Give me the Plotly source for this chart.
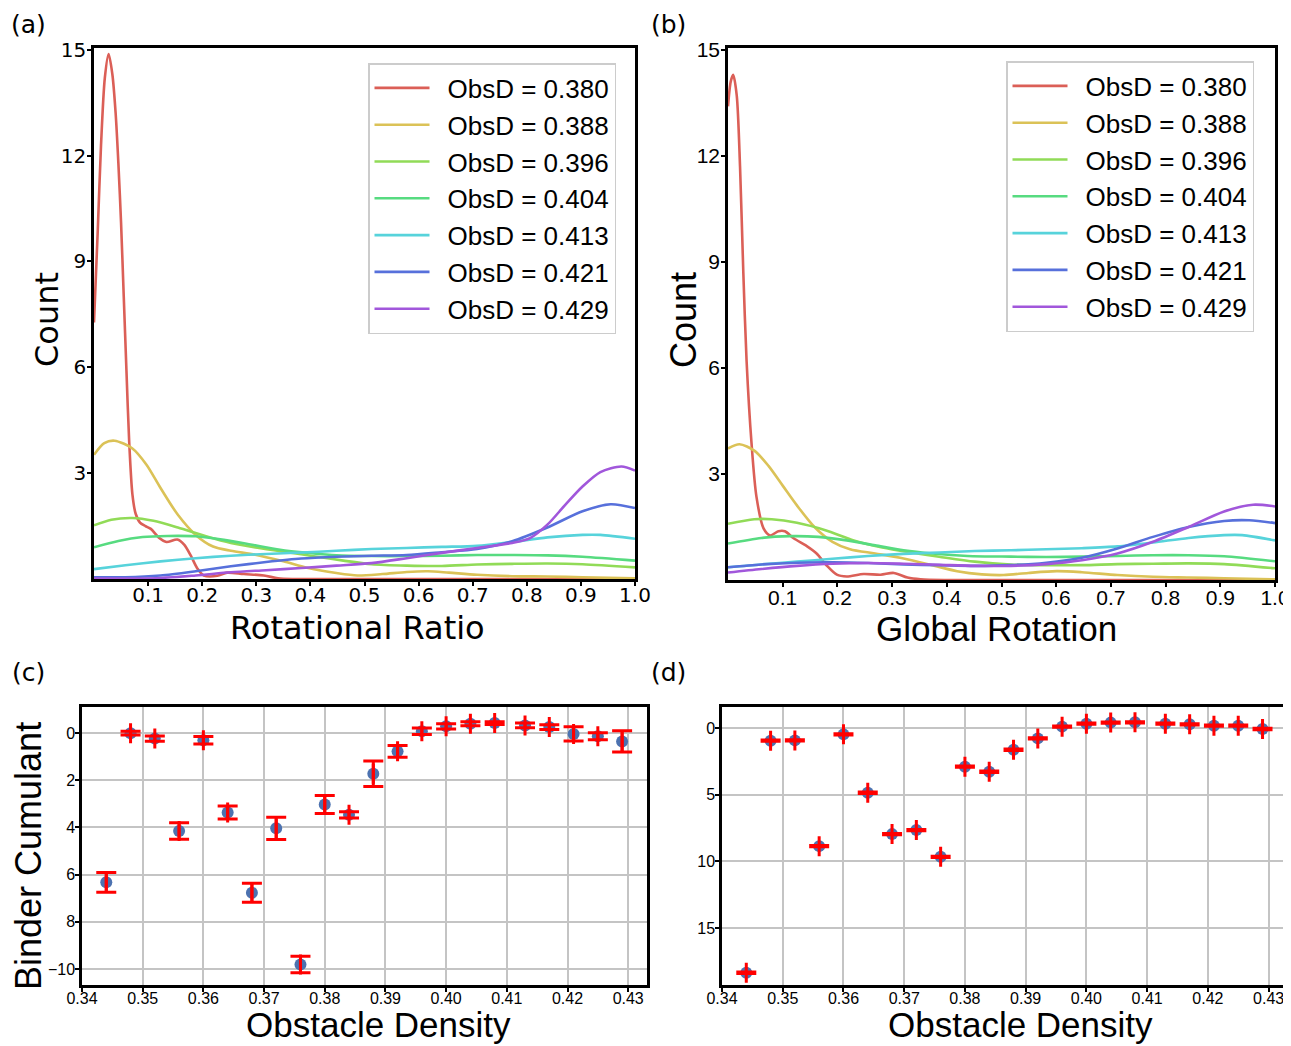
import plotly.graph_objects as go

W, H = 1291, 1046
OFF = 8  # page body margin of the html page


def fx(p):
    return (p - OFF) / W


def fy(p):
    return 1 - (p - OFF) / H


# ---------------- data ----------------
obsd_labels = ["ObsD = 0.380", "ObsD = 0.388", "ObsD = 0.396", "ObsD = 0.404",
               "ObsD = 0.413", "ObsD = 0.421", "ObsD = 0.429"]
colors = ["#db5f57", "#dbc257", "#91db57", "#57db80", "#57d3db", "#5770db", "#a157db"]

# (a) Rotational Ratio distributions
rr_red_x = [0, 0.007, 0.013, 0.02, 0.027, 0.034, 0.040, 0.045, 0.050, 0.055, 0.060, 0.065, 0.071,
            0.077, 0.085, 0.095, 0.105, 0.120, 0.134, 0.154, 0.167, 0.179, 0.191, 0.203, 0.228,
            0.246, 0.277, 0.314, 0.34, 0.37, 0.5, 0.7, 1.0]
rr_red_y = [7.27, 9.9, 12.3, 14.2, 14.88, 14.3, 13.2, 11.8, 10.1, 8.0, 5.9, 3.9, 2.4,
            1.85, 1.6, 1.5, 1.42, 1.17, 1.05, 1.12, 0.97, 0.66, 0.3, 0.1, 0.09,
            0.18, 0.14, 0.1, 0.02, 0.0, 0.0, 0.0, 0.0]
rr_yel_x = [0, 0.019, 0.038, 0.071, 0.097, 0.123, 0.155, 0.188, 0.22, 0.253, 0.298, 0.35, 0.396,
            0.448, 0.487, 0.533, 0.578, 0.617, 0.656, 0.708, 0.773, 0.838, 0.903, 1.0]
rr_yel_y = [3.52, 3.85, 3.92, 3.7, 3.24, 2.58, 1.82, 1.25, 0.92, 0.80, 0.69, 0.5, 0.31,
            0.17, 0.10, 0.14, 0.2, 0.22, 0.18, 0.12, 0.08, 0.07, 0.05, 0.02]
rr_lgr_x = [0, 0.032, 0.071, 0.11, 0.155, 0.207, 0.253, 0.305, 0.357, 0.409, 0.461, 0.513, 0.578,
            0.643, 0.708, 0.773, 0.838, 0.903, 1.0]
rr_lgr_y = [1.52, 1.68, 1.73, 1.65, 1.46, 1.21, 1.02, 0.88, 0.76, 0.64, 0.52, 0.42, 0.38,
            0.37, 0.41, 0.43, 0.44, 0.42, 0.33]
rr_grn_x = [0, 0.045, 0.09, 0.136, 0.188, 0.24, 0.292, 0.344, 0.396, 0.448, 0.513, 0.578, 0.643,
            0.708, 0.773, 0.838, 0.903, 1.0]
rr_grn_y = [0.9, 1.08, 1.19, 1.22, 1.21, 1.11, 0.97, 0.83, 0.74, 0.67, 0.65, 0.65, 0.66,
            0.68, 0.68, 0.67, 0.63, 0.52]
rr_cyn_x = [0, 0.058, 0.123, 0.188, 0.253, 0.318, 0.383, 0.448, 0.513, 0.578, 0.643, 0.708, 0.773,
            0.838, 0.903, 0.936, 1.0]
rr_cyn_y = [0.28, 0.39, 0.5, 0.59, 0.66, 0.71, 0.75, 0.8, 0.85, 0.88, 0.91, 0.94, 1.05,
            1.18, 1.25, 1.25, 1.14]
rr_blu_x = [0, 0.058, 0.123, 0.188, 0.253, 0.318, 0.383, 0.448, 0.513, 0.578, 0.643, 0.708, 0.773,
            0.838, 0.903, 0.955, 1.0]
rr_blu_y = [0.05, 0.05, 0.1, 0.22, 0.36, 0.48, 0.58, 0.63, 0.66, 0.68, 0.76, 0.85, 1.07,
            1.46, 1.92, 2.12, 2.01]
rr_pur_x = [0, 0.123, 0.188, 0.253, 0.318, 0.383, 0.448, 0.513, 0.578, 0.643, 0.708, 0.773, 0.806,
            0.838, 0.871, 0.903, 0.936, 0.975, 1.0]
rr_pur_y = [0.01, 0.03, 0.1, 0.19, 0.25, 0.31, 0.38, 0.45, 0.59, 0.74, 0.88, 1.02, 1.16,
            1.54, 2.1, 2.62, 3.03, 3.19, 3.07]

# (b) Global Rotation distributions
gr_red_x = [0, 0.005, 0.0095, 0.016, 0.022, 0.028, 0.034, 0.043, 0.052, 0.065, 0.077, 0.092, 0.104,
            0.12, 0.144, 0.162, 0.181, 0.199, 0.217, 0.248, 0.279, 0.303, 0.328, 0.352, 0.4, 0.6,
            0.8, 1.0]
gr_red_y = [13.4, 14.1, 14.29, 13.7, 11.7, 8.7, 6.19, 3.87, 2.36, 1.46, 1.26, 1.38, 1.38,
            1.18, 0.96, 0.75, 0.4, 0.15, 0.1, 0.17, 0.15, 0.2, 0.07, 0.02, 0.0, 0.0,
            0.0, 0.0]
gr_yel_x = [0, 0.021, 0.048, 0.074, 0.1, 0.126, 0.158, 0.191, 0.223, 0.269, 0.321, 0.373, 0.419,
            0.464, 0.504, 0.549, 0.601, 0.647, 0.712, 0.777, 0.842, 0.907, 1.0]
gr_yel_y = [3.72, 3.84, 3.66, 3.23, 2.67, 2.11, 1.5, 1.08, 0.87, 0.75, 0.61, 0.42, 0.25,
            0.16, 0.14, 0.2, 0.25, 0.22, 0.14, 0.09, 0.07, 0.05, 0.02]
gr_lgr_x = [0, 0.048, 0.08, 0.126, 0.178, 0.23, 0.282, 0.334, 0.386, 0.451, 0.517, 0.582, 0.647,
            0.712, 0.777, 0.842, 0.907, 1.0]
gr_lgr_y = [1.59, 1.72, 1.72, 1.62, 1.41, 1.12, 0.92, 0.78, 0.66, 0.52, 0.44, 0.42, 0.42,
            0.45, 0.46, 0.47, 0.45, 0.33]
gr_grn_x = [0, 0.061, 0.113, 0.165, 0.217, 0.269, 0.321, 0.373, 0.438, 0.517, 0.582, 0.647, 0.712,
            0.777, 0.842, 0.907, 1.0]
gr_grn_y = [1.03, 1.19, 1.24, 1.22, 1.12, 0.98, 0.84, 0.75, 0.68, 0.66, 0.65, 0.66, 0.68,
            0.7, 0.7, 0.67, 0.53]
gr_cyn_x = [0, 0.061, 0.126, 0.191, 0.256, 0.321, 0.386, 0.451, 0.517, 0.582, 0.647, 0.712, 0.777,
            0.842, 0.907, 0.94, 1.0]
gr_cyn_y = [0.36, 0.44, 0.52, 0.6, 0.68, 0.74, 0.78, 0.82, 0.84, 0.87, 0.9, 0.95, 1.06,
            1.19, 1.27, 1.27, 1.12]
gr_blu_x = [0, 0.061, 0.126, 0.191, 0.256, 0.321, 0.386, 0.451, 0.517, 0.582, 0.647, 0.712, 0.777,
            0.842, 0.907, 0.953, 1.0]
gr_blu_y = [0.36, 0.44, 0.49, 0.5, 0.48, 0.44, 0.42, 0.4, 0.42, 0.49, 0.63, 0.89, 1.22,
            1.5, 1.67, 1.69, 1.61]
gr_pur_x = [0, 0.061, 0.126, 0.191, 0.256, 0.321, 0.386, 0.451, 0.517, 0.582, 0.647, 0.712, 0.777,
            0.842, 0.907, 0.96, 1.0]
gr_pur_y = [0.21, 0.31, 0.4, 0.46, 0.48, 0.46, 0.43, 0.4, 0.4, 0.45, 0.56, 0.75, 1.08,
            1.5, 1.94, 2.13, 2.08]

rr_series = [(rr_red_x, rr_red_y), (rr_yel_x, rr_yel_y), (rr_lgr_x, rr_lgr_y), (rr_grn_x, rr_grn_y),
             (rr_cyn_x, rr_cyn_y), (rr_blu_x, rr_blu_y), (rr_pur_x, rr_pur_y)]
gr_series = [(gr_red_x, gr_red_y), (gr_yel_x, gr_yel_y), (gr_lgr_x, gr_lgr_y), (gr_grn_x, gr_grn_y),
             (gr_cyn_x, gr_cyn_y), (gr_blu_x, gr_blu_y), (gr_pur_x, gr_pur_y)]

# (c), (d) Binder cumulant vs obstacle density
obstacle_density = [0.344, 0.348, 0.352, 0.356, 0.360, 0.364, 0.368, 0.372, 0.376, 0.380, 0.384,
                    0.388, 0.392, 0.396, 0.400, 0.404, 0.408, 0.413, 0.417, 0.421, 0.425, 0.429]
binder_c = [-6.33, -0.01, -0.24, -4.15, -0.31, -3.37, -6.77, -4.04, -9.81, -3.03, -3.47,
            -1.73, -0.78, 0.07, 0.28, 0.39, 0.42, 0.32, 0.25, -0.04, -0.14, -0.36]
binder_c_err = [0.42, 0.08, 0.11, 0.35, 0.16, 0.28, 0.40, 0.47, 0.35, 0.38, 0.13,
                0.54, 0.25, 0.14, 0.11, 0.08, 0.06, 0.10, 0.10, 0.30, 0.15, 0.45]
binder_d = [-18.33, -0.95, -0.93, -8.85, -0.48, -4.85, -7.95, -7.65, -9.65, -2.9, -3.28,
            -1.63, -0.78, 0.1, 0.32, 0.4, 0.42, 0.32, 0.27, 0.17, 0.17, -0.08]
binder_d_err = [0.05, 0.05, 0.05, 0.05, 0.05, 0.05, 0.05, 0.05, 0.05, 0.05, 0.05,
                0.05, 0.05, 0.05, 0.05, 0.05, 0.05, 0.05, 0.05, 0.05, 0.05, 0.05]
density_xerr = [0.0] * 22

kde_xticks = [0.1, 0.2, 0.3, 0.4, 0.5, 0.6, 0.7, 0.8, 0.9, 1.0]
kde_yticks = [3, 6, 9, 12, 15]
dens_ticks = [0.34, 0.35, 0.36, 0.37, 0.38, 0.39, 0.40, 0.41, 0.42, 0.43]
c_yticks = [0, -2, -4, -6, -8, -10]
c_yticklabels = ["0", "2", "4", "6", "8", "\u221210"]
d_yticks = [0, -5, -10, -15]
d_yticklabels = ["0", "5", "10", "15"]

# ---------------- figure ----------------
fig = go.Figure()

DEJAVU = "DejaVu Sans"
ARIAL = "Liberation Sans, Arial"
GAP = "\u2002"

for (x, y), name, col in zip(rr_series, obsd_labels, colors):
    fig.add_trace(go.Scatter(x=x, y=y, mode="lines", name=GAP + name, xaxis="x", yaxis="y",
                             line=dict(color=col, width=2.6, shape="spline", smoothing=0.8),
                             legend="legend"))
for (x, y), name, col in zip(gr_series, obsd_labels, colors):
    fig.add_trace(go.Scatter(x=x, y=y, mode="lines", name=GAP + name, xaxis="x2", yaxis="y2",
                             line=dict(color=col, width=2.6, shape="spline", smoothing=0.8),
                             legend="legend2"))

marker_blue = "#4c72b0"
for xa, ya, yv, ye in [("x3", "y3", binder_c, binder_c_err), ("x4", "y4", binder_d, binder_d_err)]:
    fig.add_trace(go.Scatter(x=obstacle_density, y=yv, mode="markers", xaxis=xa, yaxis=ya,
                             marker=dict(color=marker_blue, size=12), showlegend=False))
    fig.add_trace(go.Scatter(x=obstacle_density, y=yv, mode="markers", xaxis=xa, yaxis=ya,
                             marker=dict(color="rgba(0,0,0,0)", size=1), showlegend=False,
                             error_y=dict(type="data", array=ye, color="red", thickness=3, width=10),
                             error_x=dict(type="data", array=density_xerr, color="red", thickness=3,
                                          width=10)))

axis_common = dict(showline=True, linecolor="black", linewidth=2.5, mirror=True,
                   ticks="outside", ticklen=4, tickwidth=1.5, tickcolor="black", zeroline=False,
                   automargin=False)

fig.update_layout(
    width=W, height=H, margin=dict(l=0, r=0, t=0, b=0, autoexpand=False),
    paper_bgcolor="white", plot_bgcolor="white",
    xaxis=dict(domain=[fx(94), fx(635)], range=[0, 1], anchor="y", tickvals=kde_xticks,
               tickformat=".1f", showgrid=False, tickfont=dict(family=DEJAVU, size=20, color="black"),
               ticklabelstandoff=-8, **axis_common),
    yaxis=dict(domain=[fy(579), fy(48)], range=[0, 15.05], anchor="x", tickvals=kde_yticks,
               showgrid=False, tickfont=dict(family=DEJAVU, size=20, color="black"),
               ticklabelstandoff=-3, **axis_common),
    xaxis2=dict(domain=[fx(728), fx(1275)], range=[0, 1], anchor="y2", tickvals=kde_xticks,
                tickformat=".1f", showgrid=False, tickfont=dict(family=ARIAL, size=21, color="black"),
                ticklabelstandoff=-7, **axis_common),
    yaxis2=dict(domain=[fy(580), fy(48)], range=[0, 15.05], anchor="x2", tickvals=kde_yticks,
                showgrid=False, tickfont=dict(family=ARIAL, size=21, color="black"),
                ticklabelstandoff=-3, **axis_common),
    xaxis3=dict(domain=[fx(82), fx(647)], range=[0.34, 0.4331], anchor="y3", tickvals=dens_ticks,
                tickformat=".2f", showgrid=True, gridcolor="#c4c4c4", gridwidth=2,
                tickfont=dict(family=ARIAL, size=16, color="black"), ticklabelstandoff=-7,
                **axis_common),
    yaxis3=dict(domain=[fy(985), fy(707)], range=[-10.68, 1.1], anchor="x3", tickvals=c_yticks,
                ticktext=c_yticklabels, showgrid=True, gridcolor="#c4c4c4", gridwidth=2,
                tickfont=dict(family=ARIAL, size=16, color="black"), ticklabelstandoff=-3,
                **axis_common),
    xaxis4=dict(domain=[fx(722), fx(1285)], range=[0.34, 0.4327], anchor="y4", tickvals=dens_ticks,
                tickformat=".2f", showgrid=True, gridcolor="#c4c4c4", gridwidth=2,
                tickfont=dict(family=ARIAL, size=16, color="black"), ticklabelstandoff=-7,
                **axis_common),
    yaxis4=dict(domain=[fy(985), fy(707)], range=[-19.25, 1.57], anchor="x4", tickvals=d_yticks,
                ticktext=d_yticklabels, showgrid=True, gridcolor="#c4c4c4", gridwidth=2,
                tickfont=dict(family=ARIAL, size=16, color="black"), ticklabelstandoff=-3,
                **axis_common),
    legend=dict(x=fx(368), y=fy(63), xanchor="left", yanchor="top", bgcolor="white",
                bordercolor="#cccccc", borderwidth=1.5, itemwidth=55, tracegroupgap=0,
                font=dict(family=ARIAL, size=26, color="black")),
    legend2=dict(x=fx(1006), y=fy(61), xanchor="left", yanchor="top", bgcolor="white",
                 bordercolor="#cccccc", borderwidth=1.5, itemwidth=55, tracegroupgap=0,
                 font=dict(family=ARIAL, size=26, color="black")),
)

annotations = [
    dict(text="(a)", x=fx(28), y=fy(25), font=dict(family=DEJAVU, size=25)),
    dict(text="(b)", x=fx(668), y=fy(25), font=dict(family=DEJAVU, size=25)),
    dict(text="(c)", x=fx(28), y=fy(672), font=dict(family=DEJAVU, size=25)),
    dict(text="(d)", x=fx(668), y=fy(672), font=dict(family=DEJAVU, size=25)),
    dict(text="Rotational Ratio", x=fx(357), y=fy(628), font=dict(family=DEJAVU, size=32)),
    dict(text="Count", x=fx(47), y=fy(320), textangle=-90, font=dict(family=DEJAVU, size=32)),
    dict(text="Global Rotation", x=fx(996), y=fy(629), font=dict(family=ARIAL, size=35)),
    dict(text="Count", x=fx(683), y=fy(320), textangle=-90, font=dict(family=ARIAL, size=36)),
    dict(text="Binder Cumulant", x=fx(28), y=fy(856), textangle=-90, font=dict(family=ARIAL, size=36)),
    dict(text="Obstacle Density", x=fx(378), y=fy(1024), font=dict(family=ARIAL, size=35)),
    dict(text="Obstacle Density", x=fx(1020), y=fy(1024), font=dict(family=ARIAL, size=35)),
]
for a in annotations:
    a.update(xref="paper", yref="paper", xanchor="center", yanchor="middle", showarrow=False)
    a["font"]["color"] = "black"
fig.update_layout(annotations=annotations)

fig.write_html("out.html")
